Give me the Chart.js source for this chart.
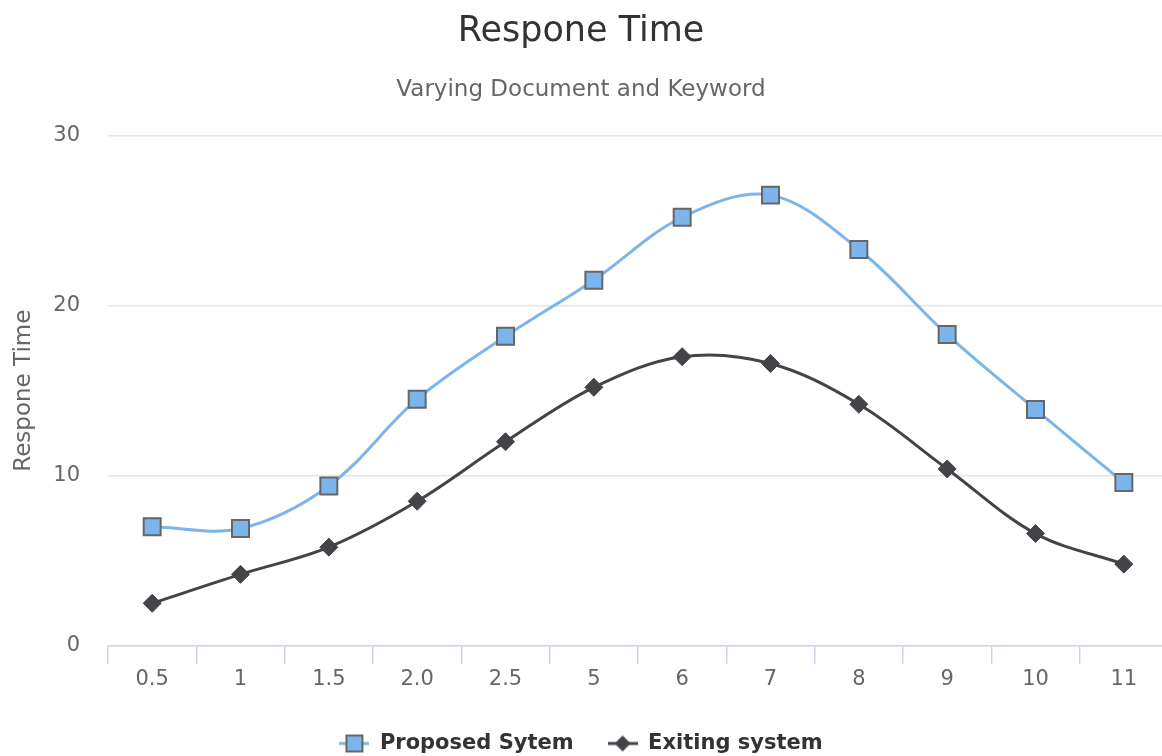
<!DOCTYPE html>
<html>
<head>
<meta charset="utf-8">
<script src="https://cdn.jsdelivr.net/npm/chart.js@4/dist/chart.umd.min.js"></script>
<style>
  html, body { margin: 0; padding: 0; background: #fff; overflow: hidden; }
  #wrap { width: 1174px; height: 756px; margin-left: -6px; }
</style>
</head>
<body>
<div id="wrap"><canvas id="grafico"></canvas></div>
<script>
// Datos
const categorias = ['0.5', '1', '1.5', '2.0', '2.5', '5', '6', '7', '8', '9', '10', '11'];
const propuesto = [7.0, 6.9, 9.4, 14.5, 18.2, 21.5, 25.2, 26.5, 23.3, 18.3, 13.9, 9.6];
const existente = [2.5, 4.2, 5.8, 8.5, 12.0, 15.2, 17.0, 16.6, 14.2, 10.4, 6.6, 4.8];
const ticksY = [0, 10, 20, 30];

const fuente = "'DejaVu Sans', sans-serif";

// Iconos de la leyenda (linea + marcador)
function iconoLeyenda(color, tipo) {
    const c = document.createElement('canvas');
    c.width = 30; c.height = 20;
    const g = c.getContext('2d');
    g.strokeStyle = color;
    g.lineWidth = 3;
    g.beginPath(); g.moveTo(0, 10); g.lineTo(30, 10); g.stroke();
    g.fillStyle = color;
    if (tipo === 'cuadrado') {
        g.fillRect(7, 2, 16, 16);
        g.strokeStyle = '#666';
        g.lineWidth = 2;
        g.strokeRect(7, 2, 16, 16);
    } else {
        g.beginPath();
        g.moveTo(15, 2); g.lineTo(23, 10); g.lineTo(15, 18); g.lineTo(7, 10);
        g.closePath(); g.fill();
    }
    return c;
}
const iconos = [iconoLeyenda('#7cb5ec', 'cuadrado'), iconoLeyenda('#434348', 'rombo')];

const ctx = document.getElementById('grafico').getContext('2d');
const grafico = new Chart(ctx, {
    type: 'line',
    data: {
        labels: categorias,
        datasets: [
            {
                label: 'Proposed Sytem',
                data: propuesto,
                borderColor: '#7cb5ec',
                backgroundColor: '#7cb5ec',
                borderWidth: 3,
                tension: 0.35,
                pointStyle: 'rect',
                pointRadius: 12,
                pointBorderColor: '#666666',
                pointBorderWidth: 2,
                pointBackgroundColor: '#7cb5ec'
            },
            {
                label: 'Exiting system',
                data: existente,
                borderColor: '#434348',
                backgroundColor: '#434348',
                borderWidth: 3,
                tension: 0.35,
                pointStyle: 'rectRot',
                pointRadius: 9,
                pointBorderColor: '#434348',
                pointBorderWidth: 1,
                pointBackgroundColor: '#434348'
            }
        ]
    },
    options: {
        responsive: true,
        maintainAspectRatio: false,
        animation: false,
        layout: { autoPadding: false, padding: { left: 0, right: 0, top: 0, bottom: -8 } },
        plugins: {
            title: {
                display: true,
                text: 'Respone Time',
                color: '#333333',
                font: { family: fuente, size: 35, weight: 'normal' },
                padding: { top: 11, bottom: 23 }
            },
            subtitle: {
                display: true,
                text: 'Varying Document and Keyword',
                color: '#666666',
                font: { family: fuente, size: 23, weight: 'normal' },
                padding: { top: 0, bottom: 32 }
            },
            legend: {
                position: 'bottom',
                labels: {
                    usePointStyle: true,
                    pointStyleWidth: 30,
                    boxHeight: 20,
                    padding: 34,
                    color: '#333333',
                    font: { family: fuente, size: 21, weight: 'bold' },
                    generateLabels: (chart) => {
                        const base = Chart.defaults.plugins.legend.labels.generateLabels(chart);
                        base.forEach((l, i) => { l.pointStyle = iconos[i]; });
                        return base;
                    }
                }
            },
            tooltip: { enabled: false }
        },
        scales: {
            x: {
                offset: true,
                afterFit: (axis) => {
                    axis.height += 4;
                    axis.paddingLeft = 0;
                    axis.paddingRight = 0;
                },
                grid: {
                    offset: true,
                    drawOnChartArea: false,
                    color: '#ccd6eb',
                    tickLength: 18,
                    lineWidth: 1.5
                },
                border: { display: true, color: '#ccd6eb', width: 1.5 },
                ticks: {
                    color: '#666666',
                    font: { family: fuente, size: 21 },
                    padding: 3,
                    maxRotation: 0
                }
            },
            y: {
                min: 0,
                max: 30,
                afterBuildTicks: (axis) => { axis.ticks = ticksY.map(v => ({ value: v })); },
                afterFit: (axis) => { axis.width = 114; },
                grid: { color: '#e6e6e6', lineWidth: 1.5, drawTicks: false },
                border: { display: false },
                ticks: {
                    color: '#666666',
                    font: { family: fuente, size: 21 },
                    padding: 28
                },
                title: {
                    display: true,
                    text: 'Respone Time',
                    color: '#666666',
                    font: { family: fuente, size: 23 },
                    padding: { top: 16, bottom: 18 }
                }
            }
        }
    }
});
</script>
</body>
</html>
